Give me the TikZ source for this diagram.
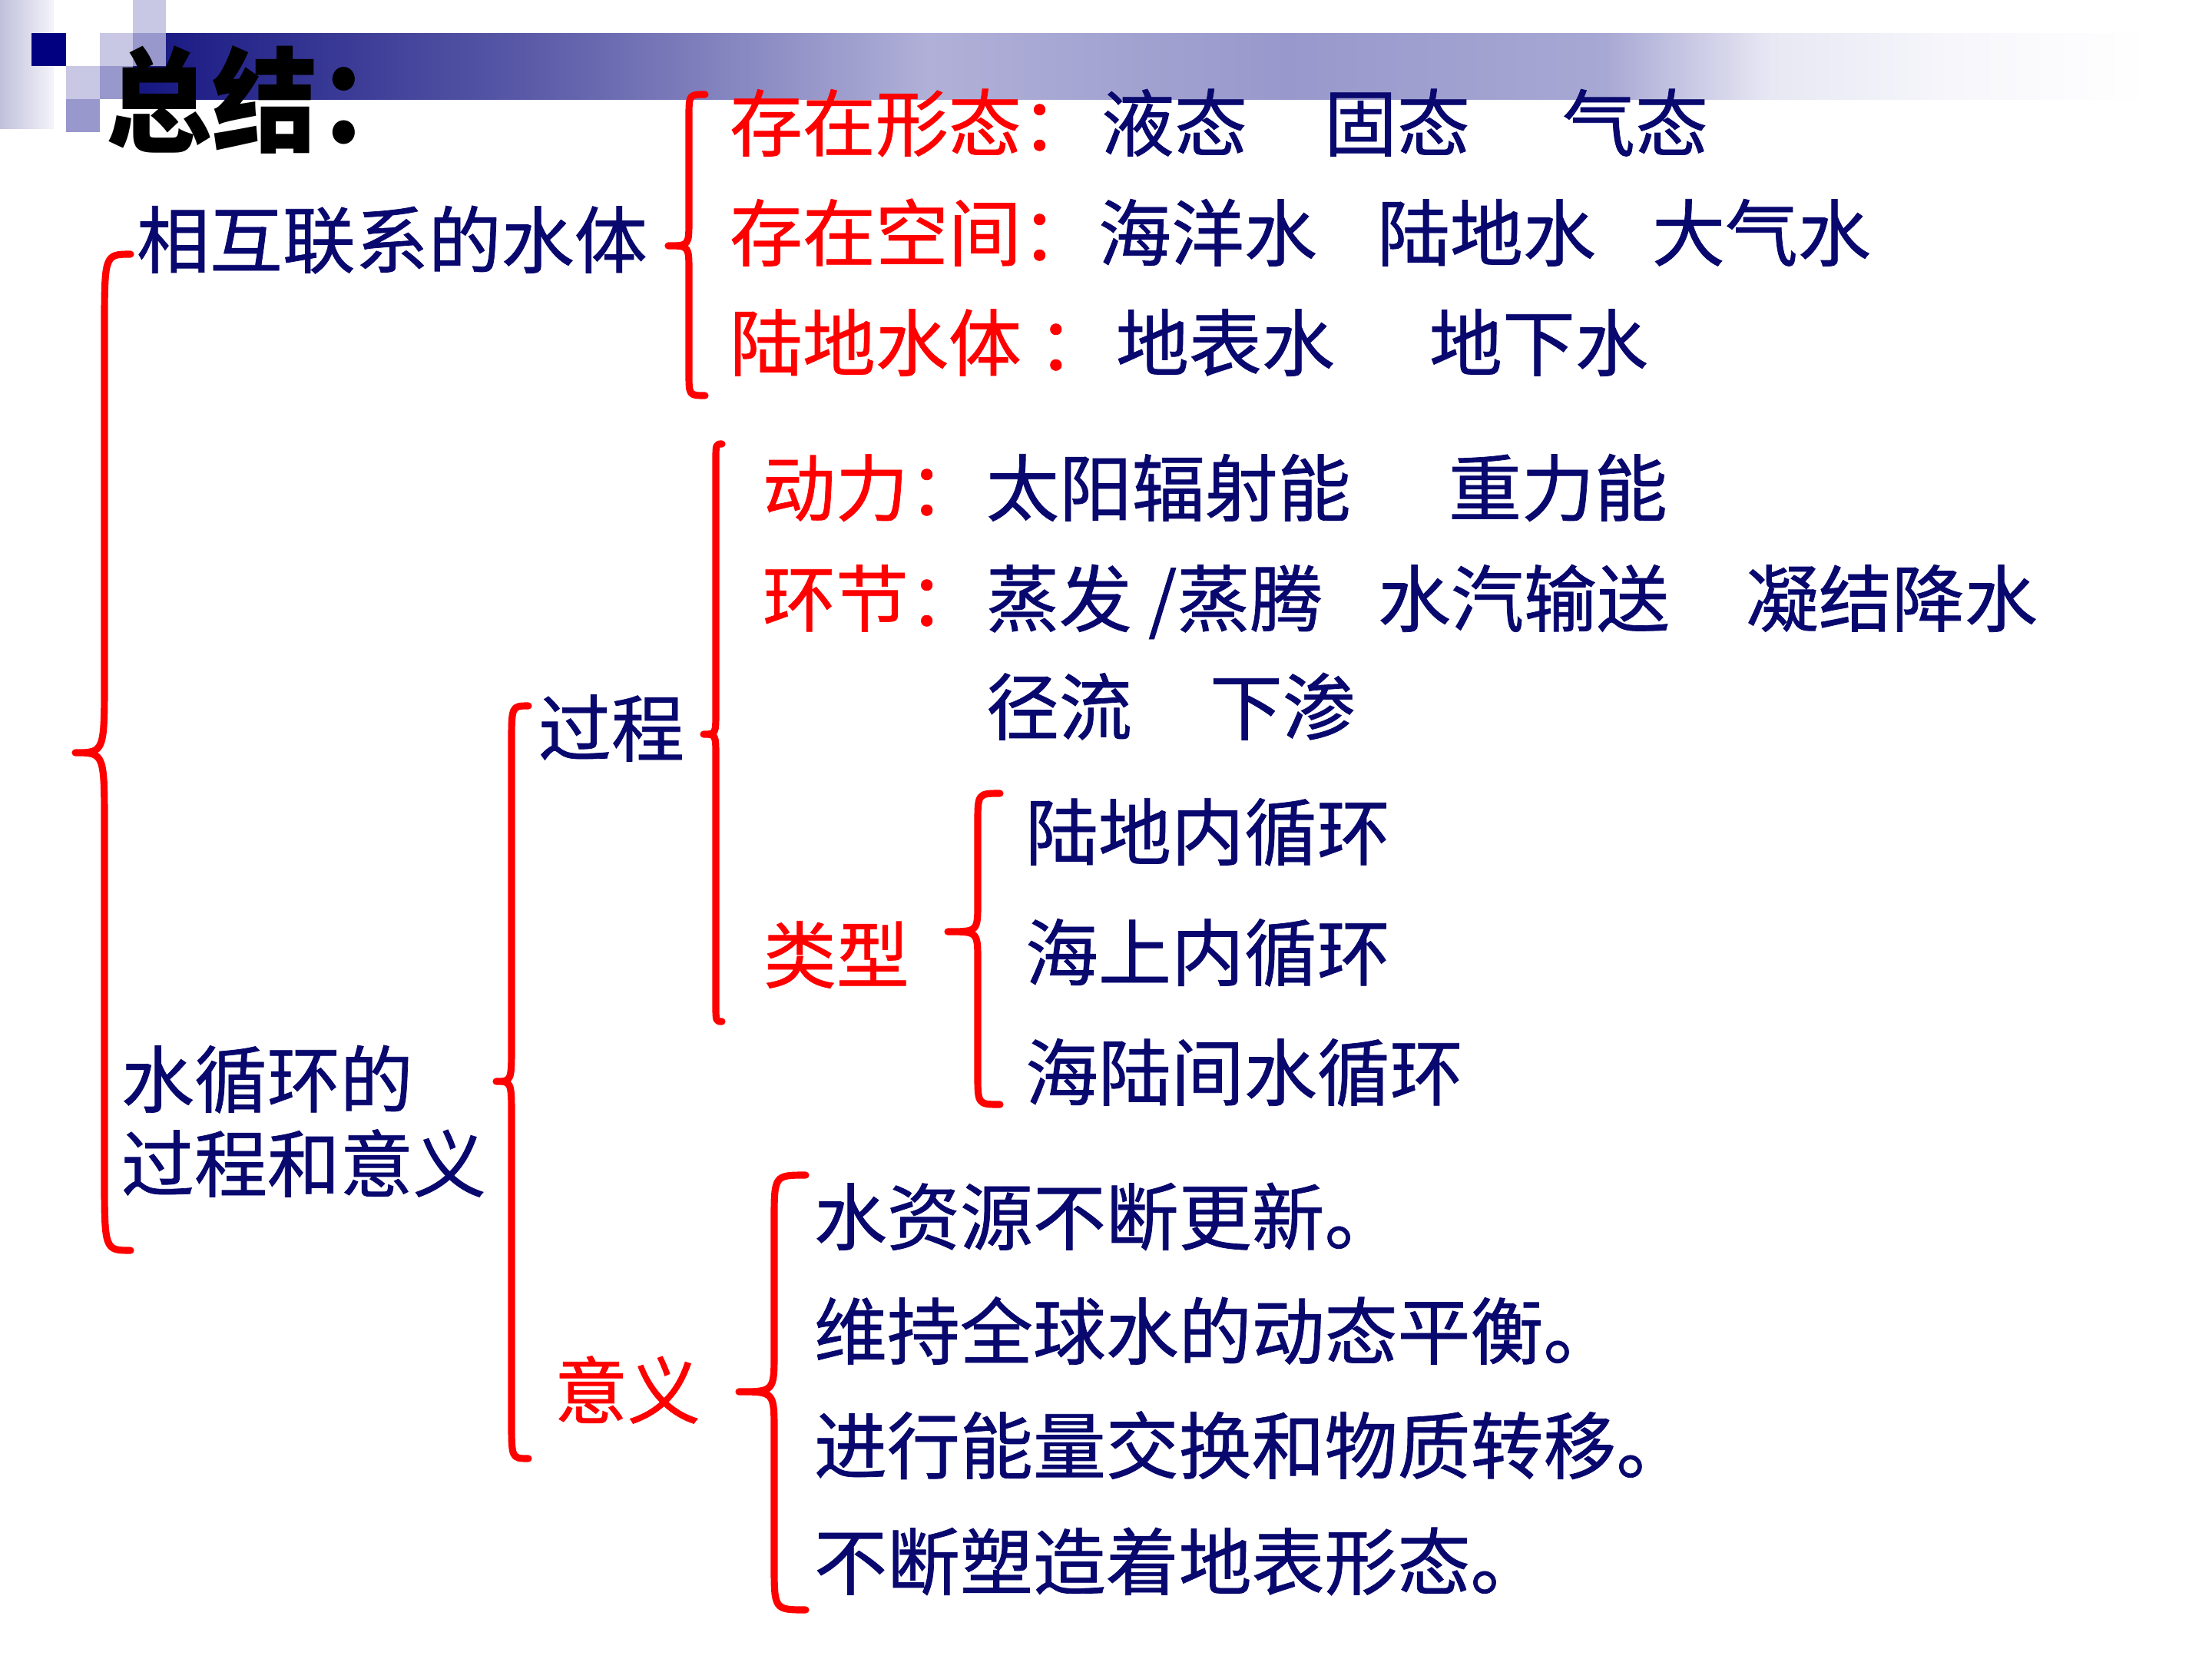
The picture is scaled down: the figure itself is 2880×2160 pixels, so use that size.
\documentclass[tikz,border=0pt]{standalone}
\usepackage{fontspec}
\newfontfamily\cjk[FakeBold=0.8]{Noto Sans CJK SC}
\newfontfamily\cjktitle[FakeStretch=0.93]{Noto Sans CJK SC}
\definecolor{navytxt}{RGB}{8,8,110}
\definecolor{redtxt}{RGB}{255,0,0}
\definecolor{bar0}{RGB}{22,22,130}
\definecolor{bar1}{RGB}{90,90,168}
\definecolor{bar2}{RGB}{176,176,216}
\definecolor{bar3}{RGB}{152,152,204}
\definecolor{bar4}{RGB}{168,168,212}
\definecolor{bar5}{RGB}{232,232,244}
\definecolor{bar6}{RGB}{248,248,252}
\definecolor{sqnavy}{RGB}{0,0,128}
\definecolor{sqlight}{RGB}{200,200,228}
\definecolor{sqmid}{RGB}{152,152,204}
\definecolor{strip0}{RGB}{192,192,220}
\definecolor{strip1}{RGB}{244,244,250}
\pgfdeclarehorizontalshading{barshade}{100bp}{color(0bp)=(bar0); color(25bp)=(bar0); color(34.8bp)=(bar1); color(44.7bp)=(bar2); color(53.6bp)=(bar3); color(61.5bp)=(bar4); color(65.6bp)=(bar5); color(70.7bp)=(bar6); color(75bp)=(white); color(100bp)=(white)}
\newcommand{\mybrace}[8]{\draw[bracestyle] (#1,#4) .. controls (#2,#4) .. (#2,{#4+#7}) -- (#2,{#5-#8}) .. controls (#2,#5) .. (#3,#5) .. controls (#2,#5) .. (#2,{#5+#8}) -- (#2,{#6-#7}) .. controls (#2,#6) .. (#1,#6);}
\begin{document}
\begin{tikzpicture}[x=0.01cm,y=-0.01cm,
  body/.style={anchor=base west,inner sep=0pt,outer sep=0pt,font=\cjk\fontsize{27pt}{30pt}\selectfont},
  nv/.style={body,text=navytxt},
  rd/.style={body,text=redtxt},
  bracestyle/.style={draw=red,line width=2.6pt,line cap=round,line join=round}]
\useasboundingbox (0,0) rectangle (2880,2160);
% header decoration
\fill[left color=strip0,right color=strip1] (0,0) rectangle (70,167);
\fill[shading=barshade] (173,43) rectangle (2800,129);
\fill[sqnavy] (41,43) rectangle (86,86);
\fill[sqlight] (173,0) rectangle (216,43);
\fill[sqlight] (130,43) rectangle (173,86);
\fill[sqlight] (86,86) rectangle (130,129);
\fill[sqmid] (173,43) rectangle (216,86);
\fill[sqmid] (130,86) rectangle (173,129);
\fill[sqmid] (86,129) rectangle (130,172);
% title
\node[anchor=base west,inner sep=0pt,font=\cjktitle\bfseries\fontsize{42pt}{46pt}\selectfont] (title) at (138,186) {总结：};
% braces
\mybrace{170}{136}{98}{331}{980}{1628}{100}{100}
\mybrace{918}{897}{870}{123}{320}{515}{30}{34}
\mybrace{688}{666}{646}{919}{1408}{1899}{50}{48}
\mybrace{940}{932}{916}{578}{956}{1330}{22}{30}
\mybrace{1302}{1273}{1234}{1033}{1213}{1438}{40}{38}
\mybrace{1049}{1008}{962}{1530}{1812}{2096}{60}{52}
% texts
\node[nv] (t1) at (178,348) {相互联系的水体};
\node[rd] (a1) at (950,196) {存在形态：};
\node[nv] (a2) at (1434,196) {液态};
\node[nv] (a3) at (1724,196) {固态};
\node[nv] (a4) at (2034,196) {气态};
\node[rd] (b1) at (950,339) {存在空间：};
\node[nv] (b2) at (1430,339) {海洋水};
\node[nv] (b3) at (1793,339) {陆地水};
\node[nv] (b4) at (2151,339) {大气水};
\node[rd] (c1) at (950,482) {陆地水体 ：};
\node[nv] (c2) at (1453,482) {地表水};
\node[nv] (c3) at (1861,482) {地下水};
\node[nv] (t2a) at (158,1441) {水循环的};
\node[nv] (t2b) at (158,1551) {过程和意义};
\node[nv] (gc) at (701,984) {过程};
\node[rd] (d1) at (993,671) {动力：};
\node[nv] (d2) at (1284,671) {太阳辐射能};
\node[nv] (d3) at (1886,671) {重力能};
\node[rd] (e1) at (993,815) {环节：};
\node[nv] (e2) at (1284,815) {蒸发 /蒸腾};
\node[nv] (e3) at (1794,815) {水汽输送};
\node[nv] (e4) at (2273,815) {凝结降水};
\node[nv] (f1) at (1284,956) {径流};
\node[nv] (f2) at (1575,956) {下渗};
\node[rd] (lx) at (994,1279) {类型};
\node[nv] (g1) at (1335,1119) {陆地内循环};
\node[nv] (g2) at (1335,1276) {海上内循环};
\node[nv] (g3) at (1335,1432) {海陆间水循环};
\node[rd] (yy) at (722,1846) {意义};
\node[nv] (m1) at (1060,1620) {水资源不断更新。};
\node[nv] (m2) at (1060,1769) {维持全球水的动态平衡。};
\node[nv] (m3) at (1060,1918) {进行能量交换和物质转移。};
\node[nv] (m4) at (1060,2069) {不断塑造着地表形态。};
\end{tikzpicture}
\end{document}
